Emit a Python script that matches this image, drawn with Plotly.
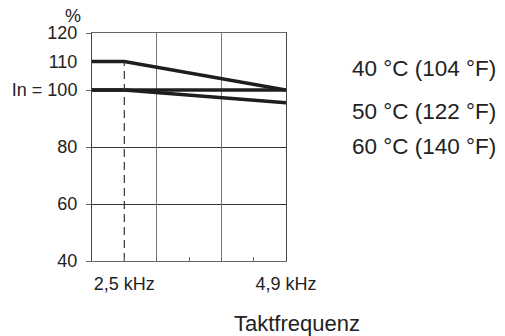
import plotly.graph_objects as go

# Data
freq_khz = [2.02, 2.5, 4.9]
curve_40 = [110, 110, 100]
curve_50 = [100, 100, 100]
curve_60 = [100, 100, 95.5]
series_names = ["40 °C (104 °F)", "50 °C (122 °F)", "60 °C (140 °F)"]
x_ticks = [2.02, 2.5, 2.98, 3.46, 3.94, 4.42, 4.9]
x_ticktext = ["", "2,5 kHz", "", "", "", "", "4,9 kHz"]
x_grid = [2.98, 3.94]
break_freq = 2.5
y_ticks = [40, 60, 80, 100, 120]
y_ticktext = ["40", "60", "80", "In = 100", "120"]
y_extra_tick = [110]
y_extra_text = ["110"]
x_title = "Taktfrequenz"
y_unit = "%"

FONT = "Liberation Sans, Arial, sans-serif"
LINE = "#1e1e1e"

fig = go.Figure()
for ys, name in zip([curve_40, curve_50, curve_60], series_names):
    fig.add_trace(go.Scatter(x=freq_khz, y=ys, mode="lines", name=name,
                             line=dict(color=LINE, width=3.5), showlegend=False))

# dashed reference at break frequency
fig.add_trace(go.Scatter(x=[break_freq, break_freq], y=[40, max(curve_40)], mode="lines",
                         line=dict(color="#333", width=1.2, dash="8px,5px"),
                         showlegend=False, hoverinfo="skip"))

# invisible trace on secondary x axis for vertical gridlines
fig.add_trace(go.Scatter(x=x_grid, y=[None, None], xaxis="x2", yaxis="y2",
                         mode="markers", showlegend=False, hoverinfo="skip"))

fig.update_layout(
    width=505, height=336,
    margin=dict(l=92, r=219, t=33, b=75),
    paper_bgcolor="white", plot_bgcolor="white",
    font=dict(family=FONT, size=18, color="#222"),
    xaxis=dict(range=[2.02, 4.9], tickvals=x_ticks, ticktext=x_ticktext,
               showgrid=False, zeroline=False, showline=True, linecolor="#666",
               linewidth=1, mirror=True, ticks="inside", ticklen=4, tickcolor="#666",
               ticklabelstandoff=6),
    yaxis=dict(range=[40, 120], tickvals=y_ticks, ticktext=y_ticktext,
               showgrid=True, gridcolor="#333", gridwidth=1, zeroline=False,
               showline=True, linecolor="#444", linewidth=1, mirror=True,
               ticks="outside", ticklen=5, tickcolor="#666", ticklabelstandoff=5),
    xaxis2=dict(range=[2.02, 4.9], overlaying="x", tickvals=x_grid, showgrid=True,
                gridcolor="#777", gridwidth=1, showticklabels=False, ticks="",
                zeroline=False, showline=False),
    yaxis2=dict(range=[40, 120], overlaying="y", side="left", tickvals=y_extra_tick,
                ticktext=y_extra_text, showgrid=False, zeroline=False, showline=False,
                ticks="outside", ticklen=5, tickcolor="rgba(0,0,0,0)",
                ticklabelstandoff=5),
)

fig.add_annotation(text=y_unit, xref="paper", yref="paper", x=-0.098, y=1.0,
                   xanchor="center", yanchor="bottom", showarrow=False,
                   font=dict(size=18), yshift=5)
fig.add_annotation(text=x_title, xref="paper", yref="paper", x=1.057, y=-0.272,
                   xanchor="center", yanchor="middle", showarrow=False,
                   font=dict(size=22))
for name, yp in zip(series_names, [0.846, 0.654, 0.504]):
    fig.add_annotation(text=name, xref="paper", yref="paper", x=1.33, y=yp,
                       xanchor="left", yanchor="middle", showarrow=False,
                       font=dict(size=22.5))

fig.write_html("out.html", config={"displayModeBar": False},
               post_script="document.body.style.margin='0';")
